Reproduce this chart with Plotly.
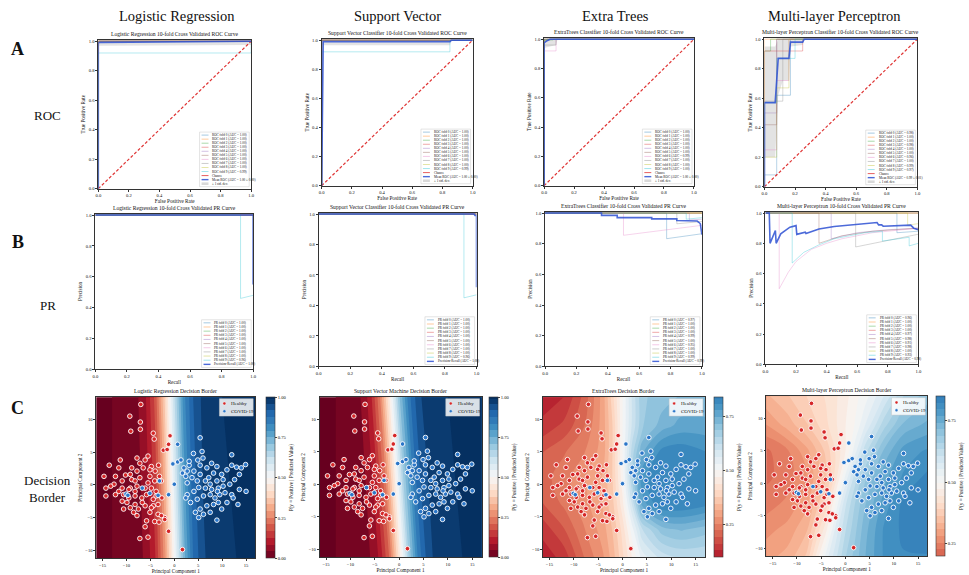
import plotly.graph_objects as go

# ====================== DATA ======================
COLUMN_HEADERS = ["Logistic Regression", "Support Vector", "Extra Trees", "Multi-layer Perceptron"]
ROW_LETTERS = ["A", "B", "C"]
ROW_NAMES = ["ROC", "PR", "Decision<br>Border"]

ROC_TITLES = ["Logistic Regression 10-fold Cross Validated ROC Curve",
              "Support Vector Classifier 10-fold Cross Validated ROC Curve",
              "ExtraTrees Classifier 10-fold Cross Validated ROC Curve",
              "Multi-layer Perceptron Classifier 10-fold Cross Validated ROC Curve"]
PR_TITLES = ["Logistic Regression 10-fold Cross Validated PR Curve",
             "Support Vector Classifier 10-fold Cross Validated PR Curve",
             "ExtraTrees Classifier 10-fold Cross Validated PR Curve",
             "Multi-layer Perceptron 10-fold Cross Validated PR Curve"]
DEC_TITLES = ["Logistic Regression Decision Border", "Support Vector Machine Decision Border",
              "ExtraTrees Decision Border", "Multi-layer Perceptron Decision Border"]

# ---- ROC folds: (fpr, tpr) ----
LR_ROC_FOLDS = [([0, 0, 1], [0, 1, 1])] * 9 + [([0, 0, 1, 1], [0, 0.92, 0.92, 1])]
LR_ROC_MEAN = ([0, 0, 0.01, 1], [0, 0.99, 0.992, 1.0])
LR_ROC_STD = ([0, 0, 1], [0, 0.97, 0.975], [0, 1, 1])
LR_ROC_AUC = [1.00, 1.00, 1.00, 1.00, 1.00, 1.00, 1.00, 1.00, 1.00, 0.99]
LR_ROC_MEAN_LABEL = "Mean ROC (AUC = 1.00 ± 0.00)"

SVM_ROC_FOLDS = [([0, 0, 1], [0, 1, 1])] * 9 + [([0, 0, 0.85, 0.85, 1], [0, 0.92, 0.92, 1, 1])]
SVM_ROC_MEAN = ([0, 0.01, 0.85, 0.86, 1], [0, 0.99, 0.99, 1, 1])
SVM_ROC_STD = ([0, 0.01, 0.85, 0.86, 1], [0, 0.965, 0.965, 1, 1], [0, 1, 1, 1, 1])
SVM_ROC_AUC = [1.00, 1.00, 1.00, 1.00, 1.00, 1.00, 1.00, 1.00, 1.00, 0.99]
SVM_ROC_MEAN_LABEL = "Mean ROC (AUC = 1.00 ± 0.00)"

ET_ROC_FOLDS = [([0, 0, 0.02, 1], [0, 0.98, 1, 1]),
                ([0, 0, 1], [0, 1, 1]),
                ([0, 0, 0.06, 0.06, 1], [0, 0.995, 0.995, 1, 1]),
                ([0, 0, 1], [0, 1, 1]),
                ([0, 0, 0.04, 1], [0, 0.98, 1, 1]),
                ([0, 0, 1], [0, 1, 1]),
                ([0, 0, 0.08, 0.08, 1], [0, 0.92, 0.92, 1, 1]),
                ([0, 0, 0.08, 0.08, 1], [0, 0.96, 0.96, 1, 1]),
                ([0, 0, 0.04, 1], [0, 0.99, 1, 1]),
                ([0, 0, 1], [0, 1, 1])]
ET_ROC_MEAN = ([0, 0, 0.02, 0.04, 1], [0, 0.975, 0.99, 1, 1])
ET_ROC_STD = ([0, 0, 0.08, 0.09, 1], [0, 0.94, 0.96, 1, 1], [0, 1, 1, 1, 1])
ET_ROC_AUC = [1.00, 1.00, 1.00, 1.00, 1.00, 1.00, 0.99, 1.00, 1.00, 1.00]
ET_ROC_MEAN_LABEL = "Mean ROC (AUC = 1.00 ± 0.00)"

MLP_ROC_FOLDS = [([0, 0, 0.08, 0.08, 0.17, 0.17, 1], [0, 0.08, 0.08, 0.62, 0.62, 1, 1]),
                 ([0, 0, 1], [0, 1, 1]),
                 ([0, 0, 0.04, 0.04, 1], [0, 0.92, 0.92, 1, 1]),
                 ([0, 0, 0.25, 0.25, 1], [0, 0.92, 0.92, 1, 1]),
                 ([0, 0, 0.08, 0.08, 1], [0, 0.5, 0.5, 1, 1]),
                 ([0, 0, 0.08, 0.08, 1], [0, 0.42, 0.42, 1, 1]),
                 ([0, 0, 0.08, 0.08, 0.16, 0.16, 1], [0, 0.25, 0.25, 0.72, 0.72, 1, 1]),
                 ([0, 0, 0.12, 0.12, 1], [0, 0.58, 0.58, 1, 1]),
                 ([0, 0, 0.08, 0.08, 0.16, 0.16, 1], [0, 0.2, 0.2, 0.67, 0.67, 1, 1]),
                 ([0, 0, 0.08, 0.08, 0.2, 0.2, 1], [0, 0.57, 0.57, 0.87, 0.87, 1, 1])]
MLP_ROC_MEAN = ([0, 0, 0.07, 0.09, 0.16, 0.17, 0.25, 0.26, 1], [0, 0.57, 0.57, 0.87, 0.87, 0.98, 0.98, 1, 1])
MLP_ROC_STD = ([0, 0, 0.07, 0.09, 0.12, 0.16, 0.17, 0.25, 0.26, 1],
               [0, 0.2, 0.2, 0.62, 0.72, 0.72, 0.95, 0.96, 1, 1],
               [0, 0.95, 0.95, 1, 1, 1, 1, 1, 1, 1])
MLP_ROC_AUC = [0.98, 1.00, 1.00, 0.98, 1.00, 1.00, 0.96, 1.00, 0.99, 0.97]
MLP_ROC_MEAN_LABEL = "Mean ROC (AUC = 0.99 ± 0.01)"

# ---- PR folds: (recall, precision) ----
LR_PR_FOLDS = [([0, 1], [1, 1])] * 9 + [([0, 0.92, 0.92, 1], [1, 1, 0.46, 0.48])]
LR_PR_MEAN = ([0, 1, 1], [1, 1, 0.55])
LR_PR_AUC = [1.00, 1.00, 1.00, 1.00, 1.00, 1.00, 1.00, 1.00, 1.00, 0.96]
LR_PR_MEAN_LABEL = "Precision-Recall (AUC = 1.00)"

SVM_PR_FOLDS = [([0, 1], [1, 1])] * 9 + [([0, 0.92, 0.92, 1], [1, 1, 0.45, 0.47])]
SVM_PR_MEAN = ([0, 0.985, 0.99, 1, 1], [1, 1, 0.99, 0.99, 0.52])
SVM_PR_AUC = [1.00, 1.00, 1.00, 1.00, 1.00, 1.00, 1.00, 1.00, 1.00, 0.96]
SVM_PR_MEAN_LABEL = "Precision-Recall (AUC = 1.00)"

ET_PR_FOLDS = [([0, 0.775, 0.775, 1], [1, 1, 0.833, 0.865]),
               ([0, 1], [1, 1]),
               ([0, 1], [1, 1]),
               ([0, 1], [1, 1]),
               ([0, 0.92, 0.92, 1], [1, 1, 0.955, 0.96]),
               ([0, 1], [1, 1]),
               ([0, 0.5, 0.5, 1], [1, 1, 0.855, 0.92]),
               ([0, 0.84, 0.84, 1], [1, 1, 0.93, 0.945]),
               ([0, 1], [1, 1]),
               ([0, 0.9, 0.9, 1], [1, 1, 0.96, 0.97])]
ET_PR_MEAN = ([0, 0.36, 0.36, 0.46, 0.46, 0.68, 0.68, 0.84, 0.84, 0.9, 0.9, 0.97, 0.98, 0.99, 1.0],
              [1, 1, 0.985, 0.985, 0.97, 0.97, 0.962, 0.962, 0.952, 0.952, 0.948, 0.948, 0.94, 0.93, 0.86])
ET_PR_AUC = [0.97, 1.00, 1.00, 1.00, 0.99, 1.00, 0.95, 1.00, 1.00, 0.99]
ET_PR_MEAN_LABEL = "Precision-Recall (AUC = 0.99)"

MLP_PR_FOLDS = [([0, 0.86, 0.86, 1], [1, 1, 0.87, 0.88]),
                ([0, 1], [1, 1]),
                ([0, 1], [1, 1]),
                ([0, 1], [1, 1]),
                ([0, 0.43, 0.43, 0.6, 0.8, 1], [1, 1, 0.83, 0.87, 0.89, 0.9]),
                ([0, 0.35, 0.35, 0.5, 0.7, 1], [1, 1, 0.8, 0.85, 0.88, 0.9]),
                ([0, 0.09, 0.09, 0.15, 0.2, 0.3, 0.4, 0.5, 0.6, 0.7, 0.8, 1],
                 [1, 1, 0.5, 0.61, 0.68, 0.76, 0.8, 0.83, 0.85, 0.87, 0.88, 0.9]),
                ([0, 0.59, 0.59, 0.8, 1], [1, 1, 0.776, 0.82, 0.86]),
                ([0, 0.93, 0.93, 1], [1, 1, 0.92, 0.93]),
                ([0, 0.175, 0.175, 0.25, 0.35, 0.45, 0.55, 0.65, 0.765, 0.765, 0.94, 0.94, 1],
                 [1, 1, 0.67, 0.74, 0.79, 0.83, 0.85, 0.87, 0.88, 0.815, 0.84, 0.783, 0.8])]
MLP_PR_MEAN = ([0, 0.025, 0.03, 0.065, 0.07, 0.1, 0.16, 0.2, 0.205, 0.26, 0.265, 0.35, 0.45, 0.55, 0.65,
                0.73, 0.74, 0.76, 0.77, 0.88, 0.95, 0.97, 1.0],
               [1, 1, 0.80, 0.885, 0.80, 0.863, 0.907, 0.917, 0.859, 0.874, 0.865, 0.894, 0.911, 0.922, 0.933,
                0.937, 0.922, 0.922, 0.913, 0.915, 0.92, 0.9, 0.889])
MLP_PR_AUC = [0.96, 1.00, 1.00, 1.00, 0.97, 0.98, 0.91, 0.98, 1.00, 0.93]
MLP_PR_MEAN_LABEL = "Precision-Recall (AUC = 0.98)"

# ---- Decision surfaces (probability grid) ----
LIN_X = [-16.5, -13, -10, -8, -6, -4, -2, 0, 2, 4, 6, 8, 10, 13, 17]
LIN_Y = [-11.5, 13.5]
LR_Z = [[0.00, 0.00, 0.01, 0.02, 0.05, 0.12, 0.27, 0.50, 0.73, 0.88, 0.95, 0.98, 0.99, 1.0, 1.0],
        [0.00, 0.00, 0.01, 0.03, 0.08, 0.18, 0.38, 0.62, 0.82, 0.92, 0.97, 0.99, 1.0, 1.0, 1.0]]
SVM_Z = [[0.00, 0.00, 0.01, 0.01, 0.04, 0.09, 0.21, 0.43, 0.67, 0.85, 0.94, 0.98, 0.99, 1.0, 1.0],
         [0.00, 0.00, 0.02, 0.04, 0.10, 0.24, 0.46, 0.70, 0.86, 0.95, 0.98, 0.99, 1.0, 1.0, 1.0]]

GRID_X = [-16.5, -12, -8, -4, -2, 0, 2, 4, 8, 12, 17]
GRID_Y = [-11.5, -7, -3, 1, 5, 9, 13.5]
ET_Z = [[0.11, 0.14, 0.22, 0.28, 0.33, 0.40, 0.47, 0.54, 0.60, 0.62, 0.62],
        [0.14, 0.19, 0.25, 0.30, 0.35, 0.42, 0.52, 0.62, 0.70, 0.72, 0.70],
        [0.19, 0.23, 0.27, 0.32, 0.37, 0.46, 0.60, 0.76, 0.84, 0.84, 0.82],
        [0.21, 0.24, 0.28, 0.32, 0.38, 0.49, 0.66, 0.80, 0.84, 0.84, 0.83],
        [0.19, 0.22, 0.25, 0.30, 0.38, 0.50, 0.64, 0.74, 0.82, 0.83, 0.81],
        [0.14, 0.17, 0.22, 0.30, 0.38, 0.50, 0.60, 0.68, 0.73, 0.76, 0.76],
        [0.11, 0.13, 0.20, 0.30, 0.40, 0.50, 0.60, 0.68, 0.70, 0.72, 0.72]]
MLP_Z = [[0.30, 0.32, 0.37, 0.54, 0.60, 0.66, 0.70, 0.74, 0.80, 0.82, 0.82],
         [0.27, 0.29, 0.33, 0.46, 0.56, 0.63, 0.68, 0.73, 0.80, 0.83, 0.84],
         [0.24, 0.26, 0.30, 0.40, 0.50, 0.60, 0.66, 0.71, 0.78, 0.83, 0.85],
         [0.22, 0.24, 0.28, 0.36, 0.43, 0.53, 0.62, 0.68, 0.76, 0.80, 0.83],
         [0.22, 0.25, 0.30, 0.37, 0.42, 0.47, 0.54, 0.62, 0.72, 0.78, 0.80],
         [0.28, 0.32, 0.36, 0.41, 0.44, 0.47, 0.50, 0.55, 0.65, 0.72, 0.75],
         [0.33, 0.36, 0.39, 0.42, 0.44, 0.46, 0.49, 0.51, 0.58, 0.66, 0.70]]
DEC_RANGES = [(0.0, 1.0), (0.0, 1.0), (0.10, 0.84), (0.20, 0.85)]
DEC_CB_TICKS = [[0, 0.25, 0.5, 0.75, 1.0], [0, 0.25, 0.5, 0.75, 1.0], [0.25, 0.5, 0.75], [0.25, 0.5, 0.75]]

# ---- PCA scatter (same samples in all decision panels) ----
HEALTHY_X = [-7.0, -9.3, -7.1, -9.1, -7.1, -4.4, -4.2, -0.9, -1.2, -2.3, -1.5, -5.5, -11.3, -3.3, -13.6,
             -14.7, -14.3, -14.3, -11.6, -10.2, -8.9, -7.8, -6.1, -6.5, -4.8, -4.0, -3.1, -2.7, -5.1, -7.2,
             -8.9, -10.9, -12.6, -10.9, -9.2, -7.8, -6.1, -4.8, -3.8, -12.3, -10.6, -9.5, -8.2, -6.8, -5.8,
             -4.4, -10.9, -9.9, -8.2, -7.5, -6.1, -4.4, -3.4, -7.8, -5.1, -3.4, -2.0, -2.0, -2.7, -4.1,
             -5.8, -6.1, -7.2, -5.5, -1.2, 1.7, -3.2, -8.2, -9.5, -11.6, -13.3, -12.3, -9.2, -7.8, -7.2,
             -5.1, -4.1, -5.5, -8.2, -10.6, -9.2, -8.5, -6.7, -3.8, -2.6, -4.8]
HEALTHY_Y = [12.3, 10.5, 9.6, 8.2, 8.5, 7.9, 7.0, 7.5, 6.2, 5.3, 5.4, 4.4, 3.8, 3.0, 3.0,
             1.3, -0.5, -1.7, 2.6, 1.5, 2.6, 4.1, 3.8, 2.6, 2.8, 2.1, 1.3, 0.6, 1.3, 1.1,
             0.8, 0.6, 0.1, -0.5, -0.5, -0.2, -0.5, -0.5, -1.0, -1.5, -1.5, -2.0, -1.7, -2.0, -1.5,
             -2.2, -2.5, -2.7, -3.0, -3.7, -3.2, -3.2, -3.0, -4.7, -4.2, -4.5, -5.0, -5.3, -4.7, -5.6,
             -5.5, -6.4, -8.2, -8.0, -7.1, -9.9, -5.7, -1.0, -0.7, -1.0, -0.2, 1.3, 1.6, 2.1, 3.3,
             2.3, 0.6, 0.3, 0.6, -3.7, -3.5, -4.2, -2.7, -1.7, -2.0, -3.5]
COVID_X = [-10.1, -9.7, -6.7, -5.1, -3.4, -3.1, -1.2, 0.0, -0.3, 0.7, 0.7, 1.4, 2.0, 1.7, 2.4,
           5.4, 2.7, 3.1, 4.1, 4.9, 5.8, 6.0, 5.4, 3.1, 3.7, 5.4, 6.8, 7.8, 8.9, 8.2,
           7.2, 8.9, 9.9, 11.0, 12.0, 13.0, 14.0, 14.9, 13.6, 12.6, 11.6, 10.2, 9.2, 7.8, 6.5,
           5.1, 4.1, 2.7, 2.4, 3.4, 4.8, 6.1, 7.5, 8.5, 9.5, 10.6, 12.0, 13.6, 15.0, 9.2,
           8.2, 6.8, 5.4, 4.4, 5.1, 6.1, 7.5, 8.9, 9.9, 11.0, 12.3, 13.3, 7.5, 10.2, 6.5,
           4.8, 2.7, 12.0, 4.0, 9.0]
COVID_Y = [-1.4, -1.6, -0.5, -1.3, -1.6, 0.6, -1.5, 0.1, 3.2, 3.5, 6.2, 3.8, 2.6, 1.8, 1.3,
           7.2, 2.1, 3.0, 2.1, 3.8, 5.1, 4.1, 3.0, 3.6, 1.1, 1.6, 2.6, 3.3, 2.8, 1.8,
           1.1, 0.6, 1.6, 2.3, 3.0, 2.7, 2.6, 3.1, 1.6, 0.8, 0.1, -0.2, -0.5, -0.7, -0.5,
           -0.4, -1.0, -1.5, -2.0, -2.7, -2.2, -1.7, -1.5, -2.0, -1.5, -1.2, -1.5, -0.7, -1.0, -2.7,
           -3.0, -3.2, -3.7, -4.2, -5.0, -4.5, -4.2, -5.4, -3.7, -2.7, -2.0, -3.0, 0.1, 0.8, 0.6,
           0.6, 0.3, 4.6, 4.8, -1.0]

# ====================== STYLE / LAYOUT ======================
W, H = 969, 575
SERIF = "Liberation Serif, Times New Roman, serif"
FOLD_COLORS = ['31,119,180', '255,127,14', '44,160,44', '214,39,40', '148,103,189',
               '140,86,75', '227,119,194', '127,127,127', '188,189,34', '23,190,207']
MEAN_COLOR = 'rgba(45,80,210,0.85)'
RDBU = ['#67001f', '#b2182b', '#d6604d', '#f4a582', '#fddbc7', '#f7f7f7',
        '#d1e5f0', '#92c5de', '#4393c3', '#2166ac', '#053061']

ROC_BOXES = [(96, 39, 250, 189), (321, 38, 473, 186), (545, 37, 696, 186), (767, 37, 921, 187)]
PR_BOXES = [(93, 214, 252, 371), (318, 213, 477, 368), (546, 212, 704, 368), (768, 212, 922, 366)]
DEC_BOXES = [(94, 399, 254, 561), (319, 399, 482, 560), (544, 399, 707, 560), (769, 398, 931, 559)]
CB_LEFT = [265, 490, 716, 940]


def fx(p):
    return p / W


def fy(p):
    return 1 - p / H


def rdbu_at(v):
    v = min(max(v, 0.0), 1.0) * 10
    i = min(int(v), 9)
    t = v - i
    a = RDBU[i]
    b = RDBU[i + 1]
    ca = [int(a[k:k + 2], 16) for k in (1, 3, 5)]
    cb = [int(b[k:k + 2], 16) for k in (1, 3, 5)]
    c = [round(ca[j] + (cb[j] - ca[j]) * t) for j in range(3)]
    return 'rgb(%d,%d,%d)' % tuple(c)


def sub_scale(lo, hi, n=21):
    return [[k / (n - 1), rdbu_at(lo + (hi - lo) * k / (n - 1))] for k in range(n)]


fig = go.Figure()
shapes, annots, axes = [], [], {}
TXT = '#111111'


def make_axes(idx, box, xr, yr, xticks, yticks, xfmt, yfmt, xtitle, ytitle, title):
    l, t, r, b = box
    s = '' if idx == 1 else str(idx)
    common = dict(showgrid=False, zeroline=False, showline=True, mirror=True, linecolor='#333',
                  linewidth=0.8, ticks='outside', ticklen=2, tickwidth=0.6, tickcolor='#333',
                  tickfont=dict(family=SERIF, size=4.6, color=TXT))
    axes['xaxis' + s] = dict(domain=[fx(l), fx(r)], range=xr, anchor='y' + s, tickvals=xticks,
                             tickformat=xfmt,
                             title=dict(text=xtitle, font=dict(family=SERIF, size=5.2, color=TXT), standoff=2),
                             **common)
    axes['yaxis' + s] = dict(domain=[fy(b), fy(t)], range=yr, anchor='x' + s, tickvals=yticks,
                             tickformat=yfmt,
                             title=dict(text=ytitle, font=dict(family=SERIF, size=5.2, color=TXT), standoff=2),
                             **common)
    annots.append(dict(text=title, x=fx((l + r) / 2), y=fy(t - 1), xref='paper', yref='paper',
                       xanchor='center', yanchor='bottom', showarrow=False,
                       font=dict(family=SERIF, size=5.6, color=TXT)))
    return 'x' + s, 'y' + s


def legend_block(x0, y0, x1, y1, entries, fs=3.3):
    shapes.append(dict(type='rect', xref='paper', yref='paper', x0=fx(x0), x1=fx(x1), y0=fy(y1), y1=fy(y0),
                       line=dict(color='#c8c8c8', width=0.5), fillcolor='rgba(255,255,255,0.85)', layer='above'))
    row = (y1 - y0 - 2) / len(entries)
    for i, (kind, color, label) in enumerate(entries):
        yy = y0 + 1 + row * (i + 0.5)
        if kind == 'band':
            shapes.append(dict(type='rect', xref='paper', yref='paper', x0=fx(x0 + 2), x1=fx(x0 + 9),
                               y0=fy(yy + 1.3), y1=fy(yy - 1.3), line=dict(width=0), fillcolor=color,
                               layer='above'))
        elif kind == 'dot':
            shapes.append(dict(type='circle', xref='paper', yref='paper', x0=fx(x0 + 3.5), x1=fx(x0 + 6.5),
                               y0=fy(yy + 1.5), y1=fy(yy - 1.5), line=dict(width=0.4, color='white'),
                               fillcolor=color, layer='above'))
        else:
            w = 1.4 if kind == 'mean' else 0.8
            dash = 'dash' if kind == 'dash' else 'solid'
            shapes.append(dict(type='line', xref='paper', yref='paper', x0=fx(x0 + 2), x1=fx(x0 + 9),
                               y0=fy(yy), y1=fy(yy), line=dict(color=color, width=w, dash=dash), layer='above'))
        annots.append(dict(text=label, x=fx(x0 + (11 if kind != 'dot' else 10)), y=fy(yy), xref='paper',
                           yref='paper', xanchor='left', yanchor='middle', showarrow=False,
                           font=dict(family=SERIF, size=fs, color=TXT)))


def line(xa, ya, xs, ys, color, width, dash='solid'):
    fig.add_trace(go.Scatter(x=xs, y=ys, xaxis=xa, yaxis=ya, mode='lines', showlegend=False,
                             hoverinfo='skip', line=dict(color=color, width=width, dash=dash)))


TICKS01 = [0, 0.2, 0.4, 0.6, 0.8, 1.0]

# ---------- ROC row ----------
ROC_SETS = [(LR_ROC_FOLDS, LR_ROC_MEAN, LR_ROC_STD, LR_ROC_AUC, LR_ROC_MEAN_LABEL),
            (SVM_ROC_FOLDS, SVM_ROC_MEAN, SVM_ROC_STD, SVM_ROC_AUC, SVM_ROC_MEAN_LABEL),
            (ET_ROC_FOLDS, ET_ROC_MEAN, ET_ROC_STD, ET_ROC_AUC, ET_ROC_MEAN_LABEL),
            (MLP_ROC_FOLDS, MLP_ROC_MEAN, MLP_ROC_STD, MLP_ROC_AUC, MLP_ROC_MEAN_LABEL)]
idx = 1
for c, (folds, mean, std, aucs, mlabel) in enumerate(ROC_SETS):
    box = ROC_BOXES[c]
    xa, ya = make_axes(idx, box, [0, 1.0], [0, 1.01], TICKS01, TICKS01, '.1f', '.1f',
                       'False Positive Rate', 'True Positive Rate', ROC_TITLES[c])
    idx += 1
    sx, slo, shi = std
    fig.add_trace(go.Scatter(x=sx, y=slo, xaxis=xa, yaxis=ya, mode='lines', line=dict(width=0),
                             showlegend=False, hoverinfo='skip'))
    fig.add_trace(go.Scatter(x=sx, y=shi, xaxis=xa, yaxis=ya, mode='lines', line=dict(width=0),
                             fill='tonexty', fillcolor='rgba(128,128,128,0.22)', showlegend=False,
                             hoverinfo='skip'))
    for k, (fx_, ty_) in enumerate(folds):
        line(xa, ya, fx_, ty_, 'rgba(%s,0.4)' % FOLD_COLORS[k], 0.8)
    line(xa, ya, [0, 1], [0, 1], 'rgba(220,30,30,0.9)', 1.2, '3px,2px')
    line(xa, ya, mean[0], mean[1], MEAN_COLOR, 1.6)
    l, t, r, b = box
    ent = [('line', 'rgba(%s,0.5)' % FOLD_COLORS[k], 'ROC fold %d (AUC = %.2f)' % (k, aucs[k]))
           for k in range(10)]
    ent += [('dash', 'rgba(220,30,30,0.9)', 'Chance'), ('mean', MEAN_COLOR, mlabel),
            ('band', 'rgba(128,128,128,0.3)', '± 1 std. dev.')]
    legend_block(r - 52, b - 57, r - 2, b - 2, ent)

# ---------- PR row ----------
PR_SETS = [(LR_PR_FOLDS, LR_PR_MEAN, LR_PR_AUC, LR_PR_MEAN_LABEL),
           (SVM_PR_FOLDS, SVM_PR_MEAN, SVM_PR_AUC, SVM_PR_MEAN_LABEL),
           (ET_PR_FOLDS, ET_PR_MEAN, ET_PR_AUC, ET_PR_MEAN_LABEL),
           (MLP_PR_FOLDS, MLP_PR_MEAN, MLP_PR_AUC, MLP_PR_MEAN_LABEL)]
for c, (folds, mean, aucs, mlabel) in enumerate(PR_SETS):
    box = PR_BOXES[c]
    xa, ya = make_axes(idx, box, [0, 1.0], [0, 1.01], TICKS01, TICKS01, '.1f', '.1f',
                       'Recall', 'Precision', PR_TITLES[c])
    idx += 1
    for k, (rx, py_) in enumerate(folds):
        line(xa, ya, rx, py_, 'rgba(%s,0.4)' % FOLD_COLORS[k], 0.8)
    line(xa, ya, mean[0], mean[1], MEAN_COLOR, 1.6)
    l, t, r, b = box
    ent = [('line', 'rgba(%s,0.5)' % FOLD_COLORS[k], 'PR fold %d (AUC = %.2f)' % (k, aucs[k]))
           for k in range(10)]
    ent += [('mean', MEAN_COLOR, mlabel)]
    legend_block(r - 52, b - 50, r - 2, b - 2, ent)

# ---------- Decision row ----------
DEC_SETS = [(LIN_X, LIN_Y, LR_Z), (LIN_X, LIN_Y, SVM_Z), (GRID_X, GRID_Y, ET_Z), (GRID_X, GRID_Y, MLP_Z)]
for c, (gx, gy, gz) in enumerate(DEC_SETS):
    box = DEC_BOXES[c]
    l, t, r, b = box
    xa, ya = make_axes(idx, box, [-16.3, 16.9], [-11.2, 13.4], [-15, -10, -5, 0, 5, 10, 15],
                       [-10, -5, 0, 5, 10], 'd', 'd', 'Principal Component 1', 'Principal Component 2',
                       DEC_TITLES[c])
    idx += 1
    lo, hi = DEC_RANGES[c]
    fig.add_trace(go.Contour(
        x=gx, y=gy, z=gz, xaxis=xa, yaxis=ya, zmin=lo, zmax=hi, colorscale=sub_scale(lo, hi),
        autocontour=False, contours=dict(start=lo, end=hi, size=(hi - lo) / 24, coloring='fill', showlines=False),
        line=dict(width=0, smoothing=1), hoverinfo='skip',
        colorbar=dict(x=fx(CB_LEFT[c]), xanchor='left', y=fy((t + b) / 2), yanchor='middle',
                      len=(b - t) / H, lenmode='fraction', thickness=9, thicknessmode='pixels',
                      xpad=0, ypad=0, outlinewidth=0.6, outlinecolor='#333',
                      tickvals=DEC_CB_TICKS[c], tickformat='.2f', ticks='outside', ticklen=2,
                      tickwidth=0.6, tickfont=dict(family=SERIF, size=4.6, color=TXT),
                      title=dict(text='P(y = Positive | Predicted Value)', side='right',
                                 font=dict(family=SERIF, size=5.2, color=TXT)))))
    fig.add_trace(go.Scatter(x=HEALTHY_X, y=HEALTHY_Y, xaxis=xa, yaxis=ya, mode='markers', showlegend=False,
                             hoverinfo='skip',
                             marker=dict(size=4.6, color='#d62728', line=dict(color='white', width=0.9))))
    fig.add_trace(go.Scatter(x=COVID_X, y=COVID_Y, xaxis=xa, yaxis=ya, mode='markers', showlegend=False,
                             hoverinfo='skip',
                             marker=dict(size=4.6, color='#2b76c8', line=dict(color='white', width=0.9))))
    legend_block(r - 36, t + 1.5, r - 2, t + 19, [('dot', '#d62728', 'Healthy'), ('dot', '#2b76c8', 'COVID-19')],
                 fs=5)

# ---------- headers ----------
HEADER_X = [175, 397, 617, 838]
for name, hx in zip(COLUMN_HEADERS, HEADER_X):
    annots.append(dict(text=name, x=fx(hx), y=fy(15), xref='paper', yref='paper', xanchor='center',
                       yanchor='middle', showarrow=False, font=dict(family=SERIF, size=14.5, color=TXT)))
LETTER_Y = [48, 243, 410]
NAME_Y = [115, 307, 491]
for letter, ly, nm, ny in zip(ROW_LETTERS, LETTER_Y, ROW_NAMES, NAME_Y):
    annots.append(dict(text='<b>%s</b>' % letter, x=fx(15), y=fy(ly), xref='paper', yref='paper',
                       xanchor='center', yanchor='middle', showarrow=False,
                       font=dict(family=SERIF, size=18, color=TXT)))
    annots.append(dict(text=nm, x=fx(45), y=fy(ny), xref='paper', yref='paper', xanchor='center',
                       yanchor='middle', showarrow=False, font=dict(family=SERIF, size=13, color=TXT)))

fig.update_layout(width=W, height=H, margin=dict(l=0, r=0, t=0, b=0), paper_bgcolor='white',
                  plot_bgcolor='white', showlegend=False, shapes=shapes, annotations=annots, **axes)
fig.write_html("out.html")
